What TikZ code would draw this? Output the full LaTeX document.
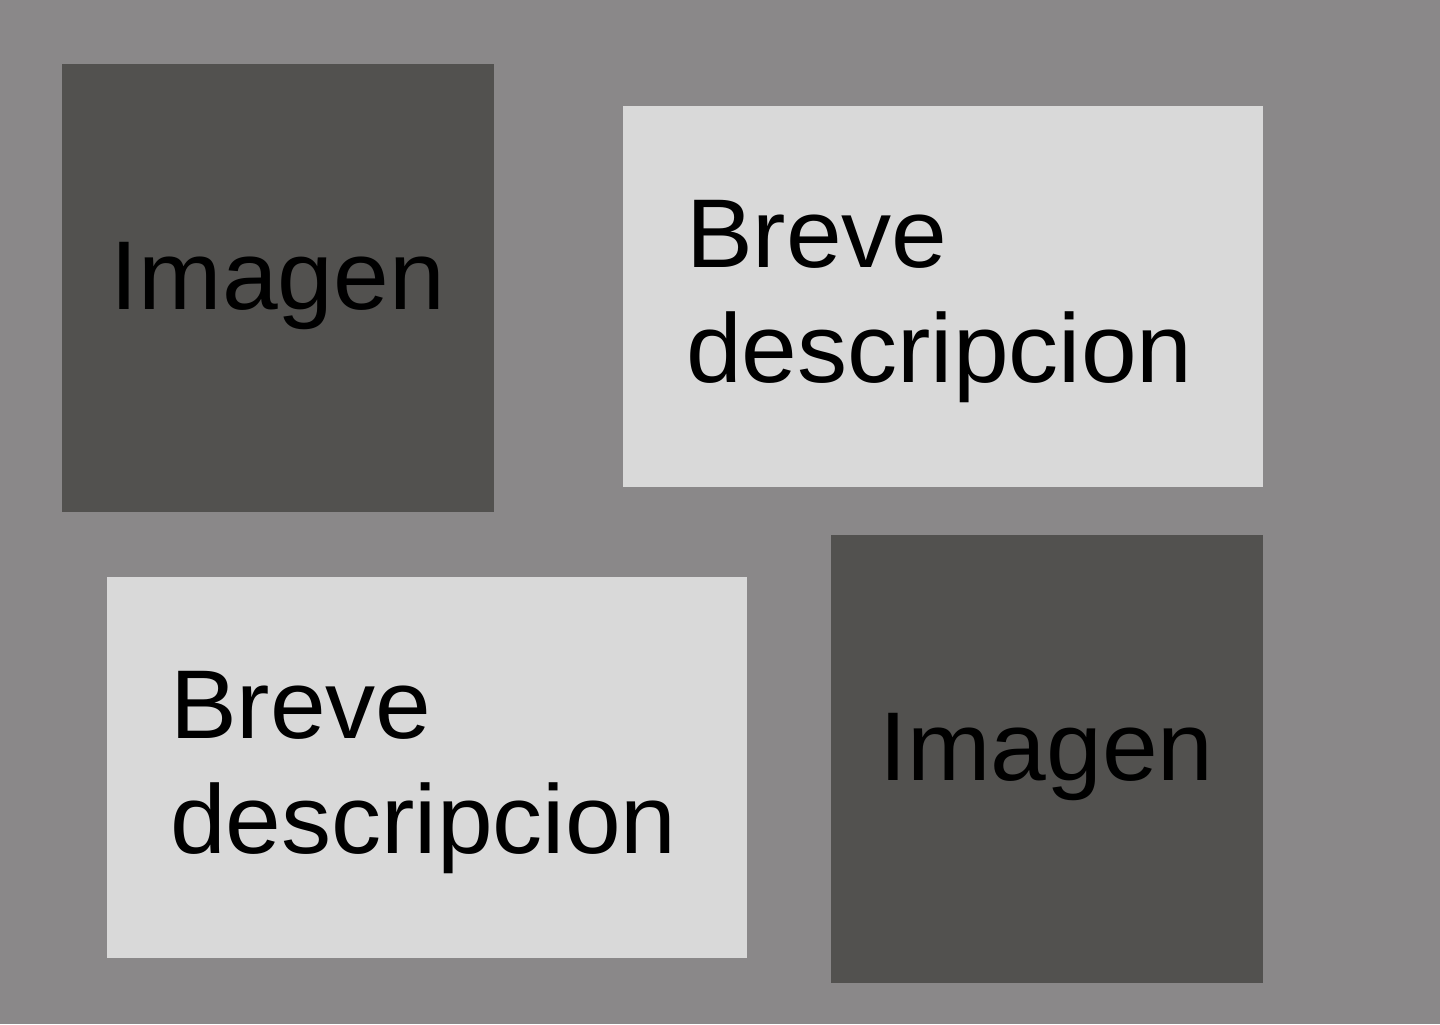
\documentclass[tikz,border=0pt]{standalone}
\usepackage{fontspec}
\setmainfont[FakeStretch=1.025]{Liberation Sans}
\usepackage{tikz}
\definecolor{bggray}{HTML}{8A8889}
\definecolor{darkgray}{HTML}{52514F}
\definecolor{lightgray}{HTML}{D9D9D9}
\begin{document}
\begin{tikzpicture}[imgbox/.style = {fill=darkgray, minimum width=4.32cm, minimum height=4.48cm, inner sep=0pt, text depth=0.67em, font=\fontsize{27.8}{32.7}\selectfont}, descbox/.style = {fill=lightgray, minimum width=6.4cm, minimum height=3.81cm, inner sep=0pt, text width=5.14cm, text depth=35.7pt, align=left, font=\fontsize{27.8}{32.7}\selectfont}]
\fill[bggray] (0,0) rectangle (14.4,10.24);
\useasboundingbox (0,0) rectangle (14.4,10.24);
\node[imgbox] (img1) at (2.78,7.36) {Imagen};
\node[descbox] (desc1) at (9.43,7.275) {Breve\\descripcion};
\node[descbox] (desc2) at (4.27,2.565) {Breve\\descripcion};
\node[imgbox] (img2) at (10.465,2.655) {Imagen};
\end{tikzpicture}
\end{document}
